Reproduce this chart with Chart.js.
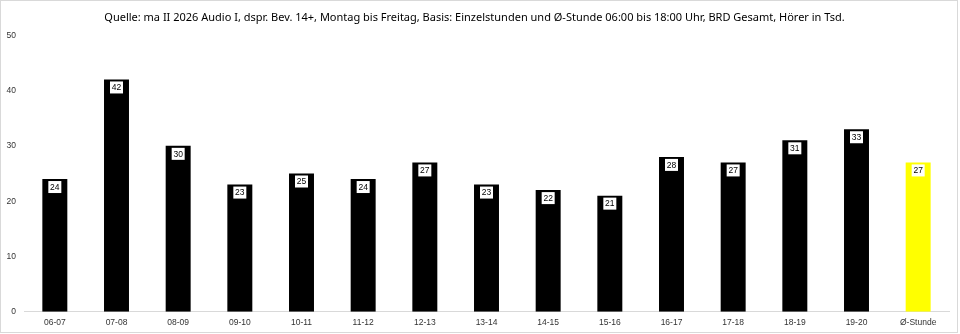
<!DOCTYPE html>
<html>
<head>
<meta charset="utf-8">
<script src="https://cdn.jsdelivr.net/npm/chart.js@4"></script>
<style>
	html, body { margin: 0; padding: 0; background: #fff; }
	#wrap { width: 960px; height: 334px; position: relative; }
</style>
</head>
<body>
<div id="wrap"><canvas id="chart" width="960" height="334"></canvas></div>
<script>
const stunden = ['06-07', '07-08', '08-09', '09-10', '10-11', '11-12', '12-13', '13-14', '14-15', '15-16', '16-17', '17-18', '18-19', '19-20', 'Ø-Stunde'];
const hoerer = [24, 42, 30, 23, 25, 24, 27, 23, 22, 21, 28, 27, 31, 33, 27];
const barColors = stunden.map((s) => s === 'Ø-Stunde' ? '#ffff00' : '#000000');
const titel = 'Quelle: ma II 2026 Audio I, dspr. Bev. 14+, Montag bis Freitag, Basis: Einzelstunden und Ø-Stunde 06:00 bis 18:00 Uhr, BRD Gesamt, Hörer in Tsd.';

// white value boxes just under the top of each bar
const valueBoxes = {
	id: 'valueBoxes',
	afterDatasetsDraw(chart) {
		const ctx = chart.ctx;
		const meta = chart.getDatasetMeta(0);
		ctx.save();
		ctx.font = '8.5px "Liberation Sans", Arial, sans-serif';
		ctx.textAlign = 'center';
		ctx.textBaseline = 'middle';
		meta.data.forEach((bar, i) => {
			const w = 13, h = 12;
			const top = bar.y + 2;
			ctx.fillStyle = '#ffffff';
			ctx.fillRect(bar.x - w / 2, top, w, h);
			ctx.fillStyle = '#000000';
			ctx.fillText(hoerer[i], bar.x, top + h / 2 + 0.5);
		});
		ctx.restore();
	}
};

const frame = {
	id: 'frame',
	afterDraw(chart) {
		const ctx = chart.ctx;
		ctx.save();
		ctx.strokeStyle = '#d9d9d9';
		ctx.lineWidth = 1;
		ctx.strokeRect(0.5, 0.5, 957, 332);
		ctx.restore();
	}
};

new Chart(document.getElementById('chart'), {
	type: 'bar',
	data: {
		labels: stunden,
		datasets: [{
			data: hoerer,
			backgroundColor: barColors,
			borderWidth: 0,
			barPercentage: 0.405,
			categoryPercentage: 1
		}]
	},
	options: {
		responsive: false,
		animation: false,
		layout: { padding: { left: 0, right: 11, top: 0, bottom: 0 } },
		plugins: {
			legend: { display: false },
			tooltip: { enabled: false },
			title: {
				display: true,
				text: titel,
				color: '#000',
				font: { family: '"Noto Sans", sans-serif', size: 11, weight: 'normal' },
				padding: { top: 11, bottom: 11 }
			}
		},
		scales: {
			x: {
				grid: { display: false, drawTicks: false },
				border: { display: true, color: '#d9d9d9' },
				ticks: {
					color: '#333333',
					padding: 6,
					font: { family: '"Liberation Sans", Arial, sans-serif', size: 8.5 }
				}
			},
			y: {
				min: 0,
				max: 50,
				grid: { display: false, drawTicks: false },
				border: { display: false },
				afterFit(scale) { scale.width = 24; },
				ticks: {
					stepSize: 10,
					color: '#333333',
					padding: 8,
					font: { family: '"Liberation Sans", Arial, sans-serif', size: 8.5 }
				}
			}
		}
	},
	plugins: [valueBoxes, frame]
});
</script>
</body>
</html>
